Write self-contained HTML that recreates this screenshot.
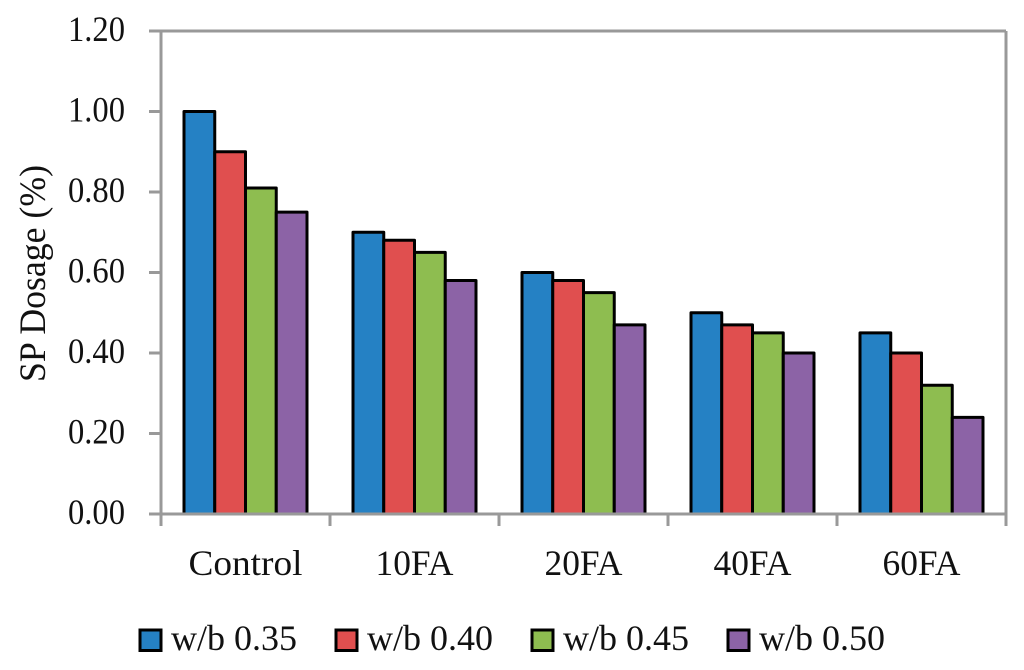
<!DOCTYPE html>
<html lang="en">
<head>
<meta charset="utf-8">
<title>SP Dosage chart</title>
<style>
html,body{margin:0;padding:0;background:#fff;}
svg{display:block;}
text{font-family:"Liberation Serif",serif;fill:#111;}
</style>
</head>
<body>
<svg id="chart" width="1024" height="670" viewBox="0 0 1024 670" xmlns="http://www.w3.org/2000/svg"></svg>
<script>
const categories = ["Control", "10FA", "20FA", "40FA", "60FA"];
const seriesNames = ["w/b 0.35", "w/b 0.40", "w/b 0.45", "w/b 0.50"];
const wb035 = [1.00, 0.70, 0.60, 0.50, 0.45];
const wb040 = [0.90, 0.68, 0.58, 0.47, 0.40];
const wb045 = [0.81, 0.65, 0.55, 0.45, 0.32];
const wb050 = [0.75, 0.58, 0.47, 0.40, 0.24];
const yTicks = [0, 0.2, 0.4, 0.6, 0.8, 1.0, 1.2];
const yTitle = "SP Dosage (%)";
const seriesColors = ["#2581c4", "#e04f4f", "#8ebd50", "#8c63a6"];

const seriesValues = [wb035, wb040, wb045, wb050];
const svg = document.getElementById('chart');
const NS = 'http://www.w3.org/2000/svg';
const plotL = 161, plotR = 1006, plotT = 31, plotB = 514;
const yMax = yTicks[yTicks.length - 1];
const groupW = (plotR - plotL) / categories.length;
const barW = 30.75;
const groupPad = (groupW - barW * seriesValues.length) / 2;

function yScale(v) { return plotB - (v / yMax) * (plotB - plotT); }
function xBand(i) { return plotL + i * groupW; }
function fmt(v) { return v.toFixed(2); }

function make(tag, attrs, text) {
  const el = document.createElementNS(NS, tag);
  for (const k in attrs) el.setAttribute(k, attrs[k]);
  if (text !== undefined) el.textContent = text;
  svg.appendChild(el);
  return el;
}
function axisLine(x1, y1, x2, y2) {
  return make('line', { x1, y1, x2, y2, stroke: '#999999', 'stroke-width': 3 });
}

let el;
el = axisLine(plotL, plotT, plotR, plotT);


el = axisLine(plotR, plotT, plotR, 526);


el = axisLine(plotL, plotT, plotL, 526);



yTicks.forEach(function (t) {
  const y = yScale(t);
  const tick = axisLine(149, y, plotL, y);
  
  
  const label = make('text', { x: 125, y: y + 10, 'text-anchor': 'end', 'font-size': 36, textLength: 57, lengthAdjust: 'spacingAndGlyphs' }, fmt(t));
  
  
});

categories.forEach(function (c, i) {
  seriesValues.forEach(function (vals, s) {
    const x = xBand(i) + groupPad + s * barW;
    const y = yScale(vals[i]);
    const bar = make('rect', { x, y, width: barW, height: plotB - y, fill: seriesColors[s], stroke: '#000000', 'stroke-width': 3, 'stroke-linejoin': 'round' });
    
    
  });
});

el = axisLine(plotL - 12, plotB, plotR, plotB);



categories.forEach(function (c, i) {
  const tick = axisLine(xBand(i + 1), plotB, xBand(i + 1), 526);
  
  
  const attrs = { x: xBand(i) + groupW / 2, y: 575, 'text-anchor': 'middle', 'font-size': 36 };
  attrs.textLength = c.length > 4 ? 114 : 78;
  attrs.lengthAdjust = 'spacingAndGlyphs';
  const label = make('text', attrs, c);
  
  
});

el = make('text', { transform: 'translate(45,273.5) rotate(-90)', 'text-anchor': 'middle', 'font-size': 37, textLength: 217, lengthAdjust: 'spacingAndGlyphs' }, yTitle);



seriesNames.forEach(function (name, s) {
  const x0 = 140 + s * 196;
  const swatch = make('rect', { x: x0, y: 630, width: 21, height: 20.5, fill: seriesColors[s], stroke: '#000000', 'stroke-width': 3 });
  
  
  const label = make('text', { x: x0 + 31, y: 650, 'font-size': 36, textLength: 126, lengthAdjust: 'spacingAndGlyphs' }, name);
  
  
});
</script>
</body>
</html>
